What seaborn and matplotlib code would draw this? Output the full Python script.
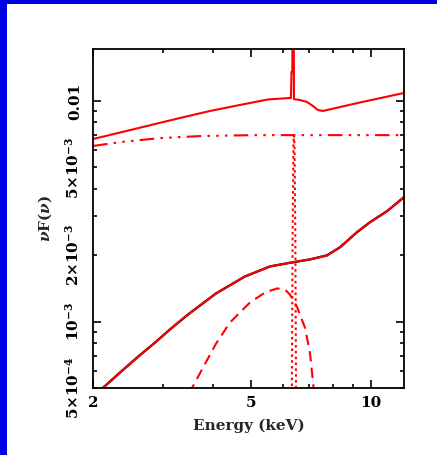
import matplotlib
matplotlib.use("Agg")
import matplotlib.pyplot as plt
import matplotlib.ticker as mticker
from matplotlib.patches import Rectangle
import seaborn as sns

# ---- data (energy in keV, nuF(nu)) ----
total_E = [2.00, 2.48, 3.27, 3.94, 4.68, 5.51, 6.29, 6.31, 6.34, 6.35, 6.39, 6.40,
           6.62, 6.90, 7.14, 7.35, 7.57, 9.37, 12.1]
total_F = [6.72e-3, 7.38e-3, 8.33e-3, 9.01e-3, 9.59e-3, 1.016e-2, 1.032e-2, 1.355e-2,
           1.355e-2, 3.0e-2, 3.0e-2, 1.02e-2, 1.01e-2, 9.90e-3, 9.49e-3, 9.10e-3,
           9.01e-3, 9.84e-3, 1.087e-2]

refl_E = [2.00, 2.34, 2.95, 3.71, 5.00, 6.62, 12.1]
refl_F = [6.25e-3, 6.51e-3, 6.79e-3, 6.93e-3, 7.0e-3, 7.0e-3, 7.0e-3]

line_E = [6.32, 6.35, 6.38, 6.40, 6.42, 6.45, 6.48]
line_F = [4.0e-4, 2.5e-3, 6.3e-3, 7.0e-3, 6.3e-3, 2.5e-3, 4.0e-4]

cont_E = [2.10, 2.119, 2.352, 2.596, 2.863, 3.140, 3.465, 4.075, 4.819, 5.570, 6.325,
          7.02, 7.744, 8.35, 9.21, 9.93, 10.96, 12.09]
cont_F = [4.8e-4, 5.01e-4, 5.93e-4, 6.93e-4, 8.03e-4, 9.29e-4, 1.076e-3, 1.341e-3,
          1.601e-3, 1.778e-3, 1.854e-3, 1.913e-3, 1.995e-3, 2.170e-3, 2.538e-3,
          2.818e-3, 3.162e-3, 3.661e-3]

bump_E = [3.50, 3.526, 3.78, 4.075, 4.418, 4.96, 5.41, 5.80, 6.07, 6.25, 6.51, 6.82,
          7.02, 7.18, 7.22]
bump_F = [4.7e-4, 4.9e-4, 6.18e-4, 7.94e-4, 9.90e-4, 1.220e-3, 1.354e-3, 1.413e-3,
          1.398e-3, 1.327e-3, 1.170e-3, 9.39e-4, 7.23e-4, 4.9e-4, 4.7e-4]

x_major = [2, 5, 10]
x_major_labels = ["2", "5", "10"]
x_minor = [3, 4, 6, 7, 8, 9]
y_major = [1e-3, 1e-2]
y_major_labels = [r"$10^{-3}$", "0.01"]
y_minor = [5e-4, 6e-4, 7e-4, 8e-4, 9e-4, 2e-3, 3e-3, 4e-3, 5e-3, 6e-3, 7e-3, 8e-3, 9e-3]
y_minor_labels = {5e-4: r"$5{\times}10^{-4}$", 2e-3: r"$2{\times}10^{-3}$",
                  5e-3: r"$5{\times}10^{-3}$"}

# ---- style ----
sns.set_style("ticks")
plt.rcParams["font.family"] = ["DejaVu Serif", "DejaVu Sans"]
plt.rcParams["font.weight"] = "bold"
plt.rcParams["mathtext.fontset"] = "custom"
plt.rcParams["mathtext.rm"] = "DejaVu Serif:bold"
plt.rcParams["mathtext.it"] = "DejaVu Serif:italic:bold"
plt.rcParams["mathtext.bf"] = "DejaVu Serif:bold"

fig = plt.figure(figsize=(4.37, 4.55), dpi=100, facecolor="white")
fig.patches.append(Rectangle((0, 0), 7 / 437, 1, transform=fig.transFigure,
                             facecolor="#0000e6", edgecolor="none", zorder=0))
fig.patches.append(Rectangle((0, 1 - 3.5 / 455), 1, 3.5 / 455, transform=fig.transFigure,
                             facecolor="#0000e6", edgecolor="none", zorder=0))

ax = fig.add_axes([93 / 437, 1 - 388 / 455, 311 / 437, 339 / 455])
ax.set_xscale("log")
ax.set_yscale("log")

red = "#ff0000"
sns.lineplot(x=cont_E, y=cont_F, ax=ax, color="black", lw=1.7, estimator=None, sort=False)
sns.lineplot(x=cont_E, y=cont_F, ax=ax, color=red, lw=1.4, estimator=None, sort=False)
sns.lineplot(x=total_E, y=total_F, ax=ax, color=red, lw=1.5, estimator=None, sort=False)
sns.lineplot(x=refl_E, y=refl_F, ax=ax, color=red, lw=1.5, estimator=None, sort=False,
             linestyle=(0, (7, 3, 1.2, 3, 1.2, 3, 1.2, 3)))
sns.lineplot(x=line_E, y=line_F, ax=ax, color=red, lw=1.5, estimator=None, sort=False,
             linestyle=(0, (1.2, 1.6)))
sns.lineplot(x=bump_E, y=bump_F, ax=ax, color=red, lw=1.5, estimator=None, sort=False,
             linestyle=(0, (5, 3)))

ax.set_xlim(2.0, 12.1)
ax.set_ylim(5e-4, 1.72e-2)

ax.xaxis.set_major_locator(mticker.FixedLocator(x_major))
ax.xaxis.set_major_formatter(mticker.FixedFormatter(x_major_labels))
ax.xaxis.set_minor_locator(mticker.FixedLocator(x_minor))
ax.xaxis.set_minor_formatter(mticker.NullFormatter())

ax.yaxis.set_major_locator(mticker.FixedLocator(y_major))
ax.yaxis.set_major_formatter(mticker.FixedFormatter(y_major_labels))
ax.yaxis.set_minor_locator(mticker.FixedLocator(y_minor))


def minor_fmt(v, pos):
    for key, lab in y_minor_labels.items():
        if abs(v - key) / key < 1e-6:
            return lab
    return ""


ax.yaxis.set_minor_formatter(mticker.FuncFormatter(minor_fmt))

for s in ax.spines.values():
    s.set_linewidth(1.3)
    s.set_color("black")
    s.set_visible(True)

ax.tick_params(which="both", direction="in", top=True, right=True, width=1.2,
               colors="black", labelsize=11)
ax.tick_params(which="major", length=6)
ax.tick_params(which="minor", length=3.2)
ax.tick_params(axis="x", which="both", pad=6)
ax.tick_params(axis="y", which="both", pad=8, labelrotation=90)
for t in ax.yaxis.get_major_ticks() + ax.yaxis.get_minor_ticks():
    t.label1.set_va("center")

ax.set_xlabel("Energy (keV)", fontsize=11, fontweight="bold")
ax.set_ylabel(r"$\nu$F($\nu$)", fontsize=11, fontweight="bold")
ax.xaxis.set_label_coords(0.5, -0.09)
ax.yaxis.set_label_coords(-0.125, 0.5)
ax.xaxis.label.set_va("top")

fig.savefig("out.png", dpi=100, facecolor="white")
